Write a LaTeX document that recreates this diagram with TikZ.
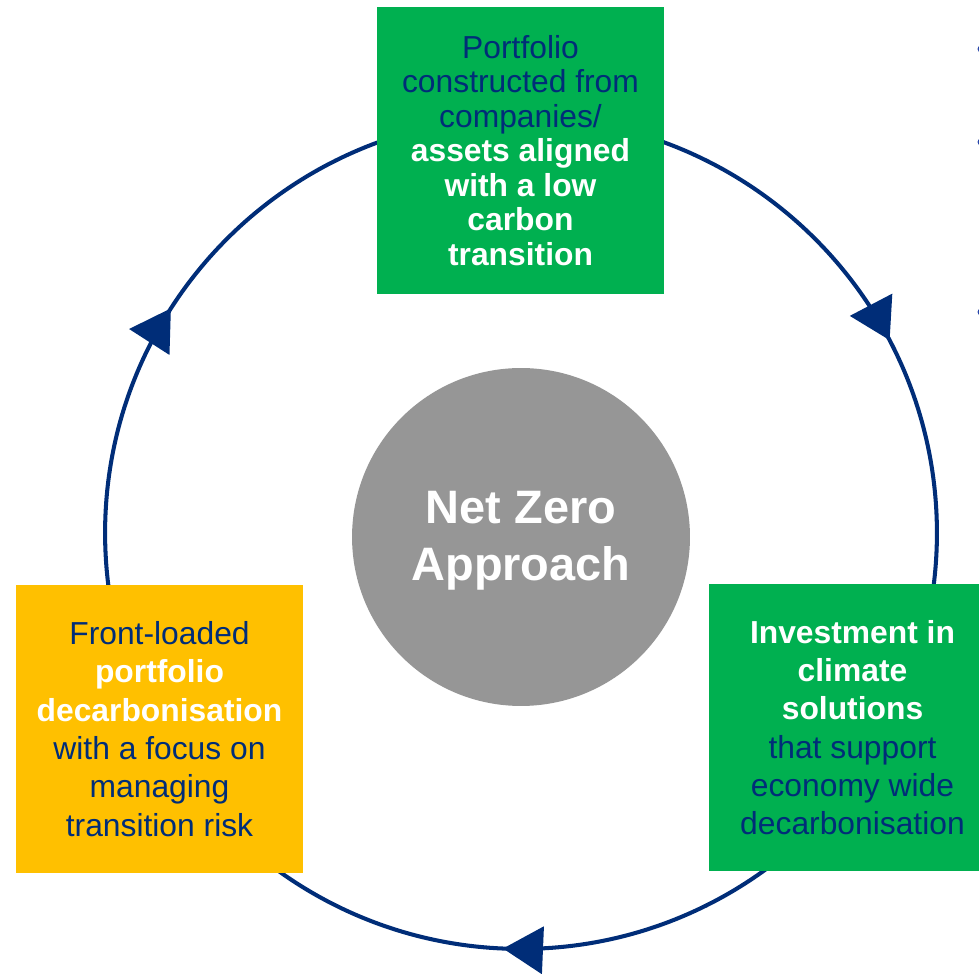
\documentclass[tikz,border=0pt]{standalone}
\usepackage{fontspec}
\setmainfont{Liberation Sans}
\usepackage{tikz}
\usetikzlibrary{arrows.meta,decorations.markings}

\definecolor{navy}{RGB}{0,45,120}
\definecolor{leafgreen}{RGB}{0,176,80}
\definecolor{amber}{RGB}{255,192,0}
\definecolor{midgray}{RGB}{150,150,150}
\definecolor{bulletblue}{RGB}{40,70,170}

\newcommand{\wb}[1]{\textcolor{white}{\bfseries #1}}

\begin{document}
\begin{tikzpicture}[x=0.02cm, y=0.02cm,
    box/.style={minimum width=5.76cm, minimum height=5.76cm, inner sep=0pt,
      align=center, text=navy, font=\fontsize{18.1}{21.8}\selectfont},
    ring/.style={navy, line width=2.3pt}]
    \useasboundingbox (0, 0) rectangle (979, 973);
    \clip (0, 0) rectangle (979, 973);

    % cycle ring, running clockwise
    \coordinate (ctr) at (521, 440);
    \draw[ring, postaction={decorate}, decoration={markings,
        mark=at position 0.1733 with {\arrow{Triangle[length=0.8cm, width=0.94cm]}},
        mark=at position 0.5069 with {\arrow{Triangle[length=0.8cm, width=0.94cm]}},
        mark=at position 0.8408 with {\arrow{Triangle[length=0.8cm, width=0.94cm]}}}]
      (ctr) ++(90:8.32cm) arc[start angle=90, end angle=-270, radius=8.32cm];

    \node[circle, fill=midgray, minimum size=6.76cm, inner sep=0pt] (core) at (521, 436) {};
    \node[align=center, text=white, font=\bfseries\fontsize{26.7}{32.6}\selectfont]
      (corelabel) at (521, 432) {Net Zero\\Approach};

    \node[box, fill=leafgreen, font=\fontsize{18.1}{19.6}\selectfont] (portfolio) at (520.5, 822.5)
      {Portfolio\\constructed from\\companies/\\\wb{assets aligned}\\\wb{with a low}\\\wb{carbon}\\\wb{transition}};
    \node[box, fill=leafgreen] (solutions) at (852.5, 245.5)
      {\wb{Investment in}\\\wb{climate}\\\wb{solutions}\\that support\\economy wide\\decarbonisation};
    \node[box, fill=amber] (frontload) at (159.5, 244)
      {Front-loaded\\\wb{portfolio}\\\wb{decarbonisation}\\with a focus on\\managing\\transition risk};

    % cut-off bullets at the right edge
    \fill[bulletblue] (981, 924) circle (3.5);
    \fill[bulletblue] (981, 831) circle (3.5);
    \fill[bulletblue] (981, 661) circle (3.5);
\end{tikzpicture}
\end{document}
